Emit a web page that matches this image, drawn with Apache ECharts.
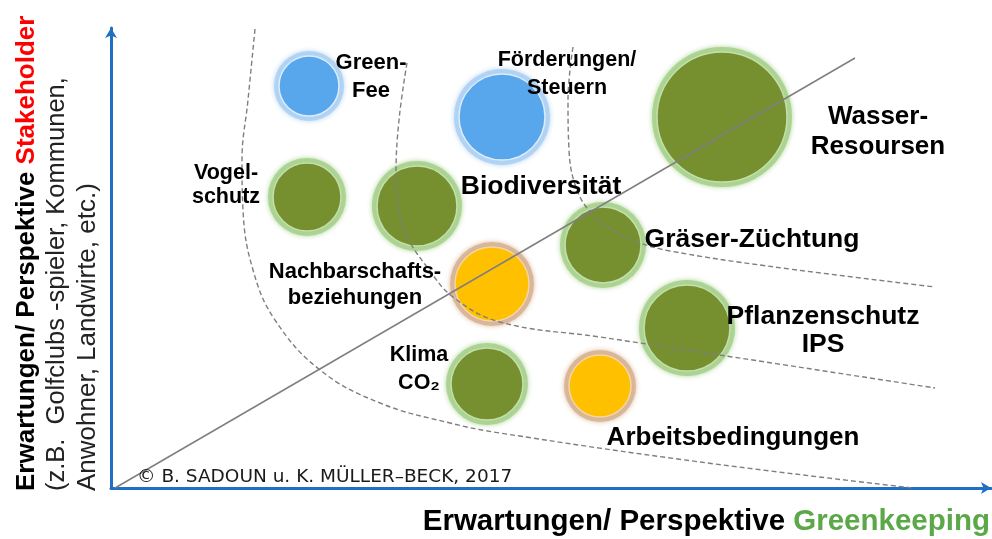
<!DOCTYPE html>
<html>
<head>
<meta charset="utf-8">
<script src="https://cdn.jsdelivr.net/npm/echarts@6/dist/echarts.min.js"></script>
<style>
html,body{margin:0;padding:0;background:#fff;}
#chart{width:992px;height:539px;}
</style>
</head>
<body>
<div id="chart"></div>
<script>
// ---------------- DATA ----------------
const topics = ['Green-Fee','Förderungen/Steuern','Wasser-Resoursen','Vogelschutz','Biodiversität','Gräser-Züchtung','Nachbarschaftsbeziehungen','Pflanzenschutz IPS','Klima CO₂','Arbeitsbedingungen'];
const topicLabels = ['Green-\nFee','Förderungen/\nSteuern','Wasser-\nResoursen','Vogel-\nschutz','Biodiversität','Gräser-Züchtung','Nachbarschafts-\nbeziehungen','Pflanzenschutz\nIPS','Klima\nCO₂','Arbeitsbedingungen'];
const greenkeeping = [19.8, 39.1, 61.1, 19.6, 30.6, 49.2, 38.1, 57.6, 37.6, 48.9];   // x
const stakeholder  = [40.2, 37.1, 37.1, 29.1, 28.2, 24.3, 20.4, 16.0, 10.4, 10.2];   // y
const weight       = [70, 96, 140, 78, 90, 86, 84, 96, 82, 72];                     // bubble diameter
const group        = ['blue','blue','green','green','green','green','yellow','green','green','yellow'];

const boundary1 = [[14.4,45.9],[13.7,38.8],[13.1,32.8],[13.2,27.8],[14.2,21.8],[16.4,16.8],[20.9,11.8],[26.9,8.5],[33.9,6.5],[38.9,5.5],[58.9,2.6],[80.2,0]];
const boundary2 = [[29.6,42.5],[28.8,36.8],[28.5,31.3],[28.9,27.3],[29.6,25.1],[31.6,22.1],[34.2,19.1],[38.9,16.6],[48.9,15.1],[58.9,13.6],[82.4,10.0]];
const boundary3 = [[46.2,44.1],[45.7,38.8],[45.8,33.8],[46.6,29.8],[48.2,27.3],[50.4,25.6],[52.9,24.5],[55.9,23.7],[65.6,22.2],[82.4,20.1]];
const diagonal  = [[0.4,0],[74.4,43.0]];

const yTitle1 = 'Erwartungen/ Perspektive ';
const yTitleRed = 'Stakeholder';
const yTitle2 = '(z.B.  Golfclubs -spieler, Kommunen,';
const yTitle3 = 'Anwohner, Landwirte, etc.)';
const xTitle = 'Erwartungen/ Perspektive ';
const xTitleGreen = 'Greenkeeping';
const credit = '© B. SADOUN u. K. MÜLLER–BECK, 2017';

// ---------------- STYLE ----------------
const palette = {
  blue:   {fill:'#58a6ec', ring:'#aed1f3', line:'#dcecfb'},
  green:  {fill:'#77902f', ring:'#a9d18e', line:'#c4dfae'},
  yellow: {fill:'#ffc000', ring:'#d8b495', line:'#f2d6a8'}
};
// label placement relative to bubble centre: [dx, dy, fontSize, lineHeight]
const labelLayout = {
  'Green-Fee':[62,-9,22,28],
  'Förderungen/Steuern':[65,-43,21.5,28],
  'Wasser-Resoursen':[156,15,26,30],
  'Vogelschutz':[-81,-12,21.5,24],
  'Biodiversität':[124,-19,26.5,28],
  'Gräser-Züchtung':[149,-5,26.5,28],
  'Nachbarschaftsbeziehungen':[-137,1,22,26],
  'Pflanzenschutz IPS':[136,3,26.5,28],
  'Klima CO₂':[-68,-15,21.5,28],
  'Arbeitsbedingungen':[133,52,26,28]
};
const RING = 5;
const FONT = '"Liberation Sans", Arial, sans-serif';

const halo = topics.map((n,i)=>({
  name:n, value:[greenkeeping[i], stakeholder[i]], symbolSize: weight[i],
  itemStyle:{color:palette[group[i]].ring, opacity:0.9, shadowBlur:5, shadowColor:palette[group[i]].ring}
}));
const core = topics.map((n,i)=>({
  name:n, value:[greenkeeping[i], stakeholder[i]], symbolSize: weight[i]-2*RING,
  itemStyle:{color:palette[group[i]].fill, opacity:1, borderColor:palette[group[i]].line, borderWidth:1.5}
}));
const labels = topics.map((n,i)=>{
  const l = labelLayout[n];
  return {
    name:n, value:[greenkeeping[i], stakeholder[i]], symbolSize:1,
    label:{show:true, position:'inside', formatter:topicLabels[i], offset:[l[0],l[1]],
      fontSize:l[2], lineHeight:l[3], fontWeight:'bold', fontFamily:FONT, color:'#000',
      align:'center', verticalAlign:'middle', opacity:1,
      textShadowColor:'rgba(255,160,40,0.4)', textShadowBlur:0, textShadowOffsetX:-1}
  };
});

const dashStyle = {color:'#7f7f7f', width:1.4, type:[5,3]};

const chart = echarts.init(document.getElementById('chart'), null, {renderer:'canvas'});
chart.setOption({
  animation:false,
  backgroundColor:'#fff',
  grid:{left:111, right:1, top:28, bottom:51},
  xAxis:{type:'value', min:0, max:88, interval:8,
    axisLine:{show:true, lineStyle:{color:'#1f6fc2', width:3}, symbol:['none','arrow'], symbolSize:[9,10]},
    axisTick:{show:false}, axisLabel:{show:false}, splitLine:{show:false}},
  yAxis:{type:'value', min:0, max:46, interval:2,
    axisLine:{show:true, lineStyle:{color:'#1f6fc2', width:3}, symbol:['none','arrow'], symbolSize:[9,10]},
    axisTick:{show:false}, axisLabel:{show:false}, splitLine:{show:false}},
  series:[
    {type:'scatter', z:1, silent:true, data:halo},
    {type:'scatter', z:2, silent:true, itemStyle:{opacity:1}, data:core},
    {type:'line', z:3, silent:true, data:boundary1, smooth:0.4, symbol:'none', lineStyle:dashStyle},
    {type:'line', z:3, silent:true, data:boundary2, smooth:0.4, symbol:'none', lineStyle:dashStyle},
    {type:'line', z:3, silent:true, data:boundary3, smooth:0.4, symbol:'none', lineStyle:dashStyle},
    {type:'line', z:3, silent:true, data:diagonal, symbol:'none', lineStyle:{color:'#7f7f7f', width:1.5}},
    {type:'scatter', z:5, silent:true, itemStyle:{color:'transparent', opacity:1}, data:labels}
  ],
  graphic:[
    {type:'text', x:27, y:491, rotation:Math.PI/2, z:10,
      style:{text:yTitle1+'{r|'+yTitleRed+'}', font:'bold 26px '+FONT, fill:'#000', align:'left', verticalAlign:'middle',
        rich:{r:{fill:'#ff0000', font:'bold 26px '+FONT}}}},
    {type:'text', x:57, y:491, rotation:Math.PI/2, z:10,
      style:{text:yTitle2, font:'25.5px '+FONT, fill:'#222', align:'left', verticalAlign:'middle'}},
    {type:'text', x:88, y:491, rotation:Math.PI/2, z:10,
      style:{text:yTitle3, font:'26px '+FONT, fill:'#222', align:'left', verticalAlign:'middle'}},
    {type:'text', x:990, y:522, z:10,
      style:{text:xTitle+'{g|'+xTitleGreen+'}', font:'bold 29.5px '+FONT, fill:'#000', align:'right', verticalAlign:'middle',
        rich:{g:{fill:'#5aa847', font:'bold 29.5px '+FONT}}}},
    {type:'text', x:137, y:477, z:10,
      style:{text:credit, font:'18.5px "DejaVu Sans", sans-serif', fill:'#1a1a1a', align:'left', verticalAlign:'middle'}}
  ]
});
</script>
</body>
</html>
